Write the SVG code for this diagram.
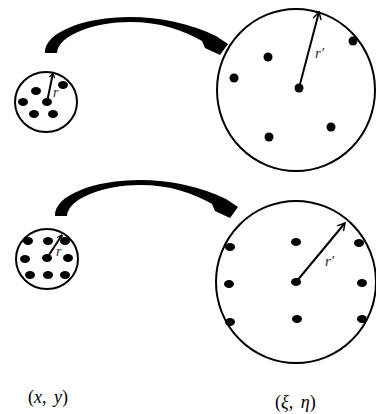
<svg xmlns="http://www.w3.org/2000/svg" width="376" height="414" viewBox="0 0 376 414">
<defs>
<style>
.ring{fill:none;stroke:#000;stroke-width:2}
.dot{fill:#000}
.rad{fill:none;stroke:#000;stroke-width:2}
.lbl{font-family:"Liberation Serif","DejaVu Serif",serif;font-style:italic;fill:#2a2a3a}
.coord{font-family:"Liberation Serif","DejaVu Serif",serif;font-size:18px;fill:#000;word-spacing:3px}
.big{fill:#000;stroke:none}
</style>
<marker id="chev" viewBox="0 0 10 10" refX="9" refY="5" markerWidth="6" markerHeight="6" orient="auto" markerUnits="userSpaceOnUse">
<polyline points="1,0.5 9,5 1,9.5" fill="none" stroke="#000" stroke-width="2"/>
</marker>
<marker id="chevB" viewBox="0 0 10 10" refX="9" refY="5" markerWidth="9" markerHeight="9" orient="auto" markerUnits="userSpaceOnUse">
<polyline points="1,0.5 9,5 1,9.5" fill="none" stroke="#000" stroke-width="1.6"/>
</marker>
<path id="curve" d="M45,53 C44,32 85,17 130,17 C160,17 192,24 216,36 L228,44 L220,55 L205,48 L202,41 C183,30 160,22 130,22 C95,22 58,35 57,53 Z"/>
</defs>

<g id="connectors">
<use href="#curve" class="big"/>
<use href="#curve" class="big" transform="translate(10,163)"/>
</g>

<g id="src-top">
<ellipse class="ring" cx="46" cy="102" rx="31" ry="30"/>
<ellipse class="dot" cx="36" cy="91" rx="5" ry="4"/>
<ellipse class="dot" cx="23" cy="102" rx="5" ry="4"/>
<ellipse class="dot" cx="47" cy="102" rx="5" ry="4"/>
<ellipse class="dot" cx="63" cy="85" rx="5" ry="4"/>
<ellipse class="dot" cx="34" cy="114" rx="5" ry="4"/>
<ellipse class="dot" cx="53" cy="114" rx="5" ry="4"/>
<line class="rad" x1="47" y1="102" x2="53" y2="73" marker-end="url(#chev)"/>
<text class="lbl" x="53" y="97" font-size="14">r</text>
</g>

<g id="dst-top">
<ellipse class="ring" cx="296" cy="90" rx="79" ry="81"/>
<circle class="dot" cx="268" cy="57" r="4.5"/>
<circle class="dot" cx="234" cy="78" r="4.5"/>
<circle class="dot" cx="299" cy="88" r="4.5"/>
<circle class="dot" cx="353" cy="41" r="4.5"/>
<circle class="dot" cx="331" cy="127" r="4.5"/>
<circle class="dot" cx="269" cy="137" r="4.5"/>
<line class="rad" x1="299" y1="88" x2="319" y2="12" marker-end="url(#chevB)"/>
<text class="lbl" x="315" y="58" font-size="15">r′</text>
</g>

<g id="src-bottom">
<ellipse class="ring" cx="47" cy="259" rx="31" ry="30"/>
<ellipse class="dot" cx="28" cy="241" rx="5" ry="4"/>
<ellipse class="dot" cx="48" cy="241" rx="5" ry="4"/>
<ellipse class="dot" cx="65" cy="241" rx="5" ry="4"/>
<ellipse class="dot" cx="25" cy="259" rx="5" ry="4"/>
<ellipse class="dot" cx="47" cy="258" rx="5" ry="4"/>
<ellipse class="dot" cx="68" cy="258" rx="5" ry="4"/>
<ellipse class="dot" cx="30" cy="275" rx="5" ry="4"/>
<ellipse class="dot" cx="48" cy="275" rx="5" ry="4"/>
<ellipse class="dot" cx="65" cy="275" rx="5" ry="4"/>
<line class="rad" x1="47" y1="258" x2="62" y2="235" marker-end="url(#chev)"/>
<text class="lbl" x="56" y="256" font-size="14">r</text>
</g>

<g id="dst-bottom">
<ellipse class="ring" cx="296" cy="282" rx="80" ry="81"/>
<ellipse class="dot" cx="230" cy="247" rx="5" ry="4"/>
<ellipse class="dot" cx="296" cy="242" rx="5" ry="4"/>
<ellipse class="dot" cx="359" cy="243" rx="5" ry="4"/>
<ellipse class="dot" cx="229" cy="284" rx="5" ry="4"/>
<ellipse class="dot" cx="296" cy="282" rx="5" ry="4"/>
<ellipse class="dot" cx="362" cy="283" rx="5" ry="4"/>
<ellipse class="dot" cx="230" cy="322" rx="5" ry="4"/>
<ellipse class="dot" cx="297" cy="319" rx="5" ry="4"/>
<ellipse class="dot" cx="362" cy="319" rx="5" ry="4"/>
<line class="rad" x1="296" y1="282" x2="345" y2="223" marker-end="url(#chevB)"/>
<text class="lbl" x="325" y="266" font-size="15">r′</text>
</g>

<g id="labels">
<text class="coord" x="28" y="403">(<tspan font-style="italic">x</tspan>, <tspan font-style="italic">y</tspan>)</text>
<text class="coord" x="275" y="408">(<tspan font-style="italic">ξ</tspan>, <tspan font-style="italic">η</tspan>)</text>
</g>
</svg>
